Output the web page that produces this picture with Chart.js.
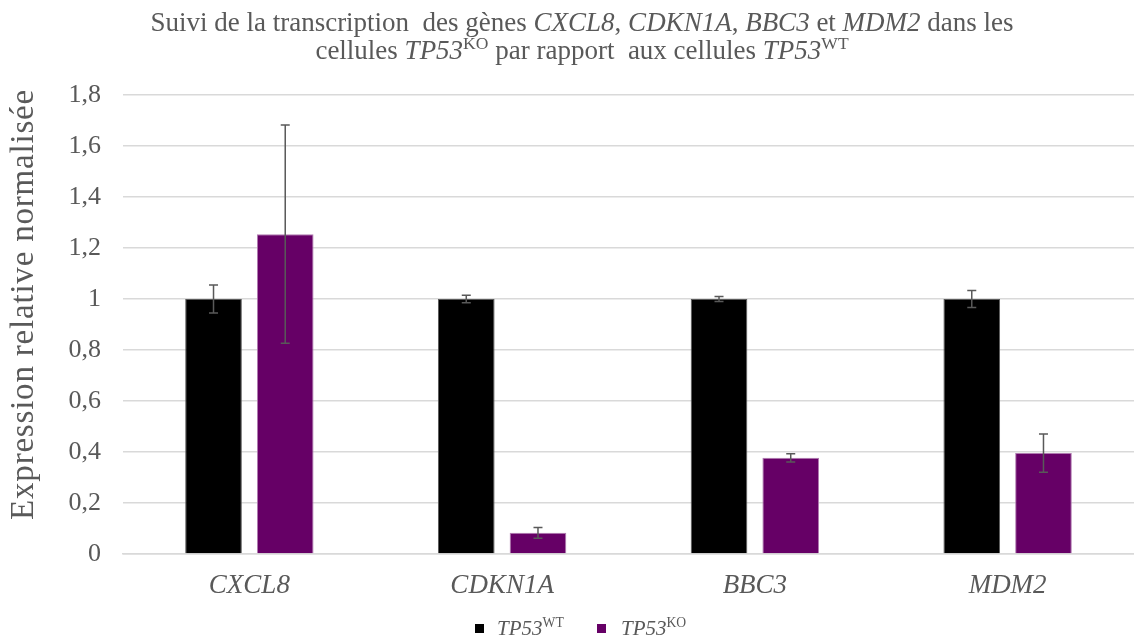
<!DOCTYPE html>
<html>
<head>
<meta charset="utf-8">
<script src="https://cdn.jsdelivr.net/npm/chart.js@4.4.1/dist/chart.umd.min.js"></script>
<style>
  html, body { margin: 0; padding: 0; background: #fff; }
  #wrap { width: 1134px; height: 639px; }
</style>
</head>
<body>
<div id="wrap"><canvas id="chart" width="1134" height="639"></canvas></div>
<script>
// Expression relative normalisee (qPCR), WT vs KO
const genes = ['CXCL8', 'CDKN1A', 'BBC3', 'MDM2'];
const wtValues = [1, 1, 1, 1];
const wtErrors = [0.055, 0.015, 0.01, 0.033];
const koValues = [1.254, 0.083, 0.377, 0.396];
const koErrors = [0.428, 0.021, 0.016, 0.075];
const yTicks = [0, 0.2, 0.4, 0.6, 0.8, 1, 1.2, 1.4, 1.6, 1.8];

const TEXT = '#595959';
const SERIF = '"Liberation Serif", "Times New Roman", serif';
const PURPLE = '#660066';

// segments: { t: texte, i: italique, sup: exposant }
function richWidth(ctx, parts, size) {
    let w = 0;
    parts.forEach(p => {
        const s = p.sup ? size * 0.65 : size;
        ctx.font = (p.i ? 'italic ' : '') + s + 'px ' + SERIF;
        w += ctx.measureText(p.t).width;
    });
    return w;
}

function drawRich(ctx, parts, x, y, size, align) {
    const w = richWidth(ctx, parts, size);
    let cx = align === 'center' ? x - w / 2 : x;
    ctx.textAlign = 'left';
    ctx.textBaseline = 'alphabetic';
    parts.forEach(p => {
        const s = p.sup ? size * 0.65 : size;
        ctx.font = (p.i ? 'italic ' : '') + s + 'px ' + SERIF;
        ctx.fillText(p.t, cx, p.sup ? y - size * 0.36 : y);
        cx += ctx.measureText(p.t).width;
    });
}

const titleLines = [
    [
        { t: 'Suivi de la transcription  des gènes ' },
        { t: 'CXCL8', i: true }, { t: ', ' },
        { t: 'CDKN1A', i: true }, { t: ', ' },
        { t: 'BBC3', i: true }, { t: ' et ' },
        { t: 'MDM2', i: true }, { t: ' dans les' },
    ],
    [
        { t: 'cellules ' }, { t: 'TP53', i: true }, { t: 'KO', sup: true },
        { t: ' par rapport  aux cellules ' }, { t: 'TP53', i: true }, { t: 'WT', sup: true },
    ],
];

const errorBars = {
    id: 'errorBars',
    afterDatasetsDraw(chart) {
        const ctx = chart.ctx;
        const y = chart.scales.y;
        const errs = [wtErrors, koErrors];
        ctx.save();
        ctx.strokeStyle = '#595959';
        ctx.lineWidth = 1.5;
        chart.data.datasets.forEach((ds, di) => {
            chart.getDatasetMeta(di).data.forEach((bar, i) => {
                const v = ds.data[i], e = errs[di][i];
                const top = y.getPixelForValue(v + e), bot = y.getPixelForValue(v - e);
                ctx.beginPath();
                ctx.moveTo(bar.x, top); ctx.lineTo(bar.x, bot);
                ctx.moveTo(bar.x - 4.5, top); ctx.lineTo(bar.x + 4.5, top);
                ctx.moveTo(bar.x - 4.5, bot); ctx.lineTo(bar.x + 4.5, bot);
                ctx.stroke();
            });
        });
        ctx.restore();
    },
    afterDraw(chart) {
        const ctx = chart.ctx;
        const area = chart.chartArea;
        ctx.save();
        ctx.fillStyle = TEXT;
        // titre
        drawRich(ctx, titleLines[0], 582, 31, 27, 'center');
        drawRich(ctx, titleLines[1], 582, 59, 27, 'center');
        // titre de l'axe Y
        ctx.translate(33, (area.top + area.bottom) / 2 - 20);
        ctx.rotate(-Math.PI / 2);
        ctx.font = '33px ' + SERIF;
        ctx.letterSpacing = '0.8px';
        ctx.textAlign = 'center';
        ctx.textBaseline = 'alphabetic';
        ctx.fillText('Expression relative normalisée', 0, 0);
        ctx.letterSpacing = '0px';
        ctx.setTransform(1, 0, 0, 1, 0, 0);
        // legende
        ctx.fillStyle = '#000';
        ctx.fillRect(475, 624, 9, 9);
        ctx.fillStyle = PURPLE;
        ctx.fillRect(597, 624, 9, 9);
        ctx.fillStyle = TEXT;
        drawRich(ctx, [{ t: 'TP53', i: true }, { t: 'WT', sup: true }], 497, 635, 21, 'left');
        drawRich(ctx, [{ t: 'TP53', i: true }, { t: 'KO', sup: true }], 621, 635, 21, 'left');
        ctx.restore();
    },
};

new Chart(document.getElementById('chart'), {
    type: 'bar',
    data: {
        labels: genes,
        datasets: [
            { label: 'TP53 WT', data: wtValues, backgroundColor: '#000', borderColor: '#595959', borderWidth: 1 },
            { label: 'TP53 KO', data: koValues, backgroundColor: PURPLE, borderColor: '#b07ab0', borderWidth: 1 },
        ],
    },
    options: {
        responsive: false,
        animation: false,
        layout: { padding: { top: 95, right: -4, left: 0, bottom: 0 } },
        datasets: { bar: { categoryPercentage: 0.5675, barPercentage: 0.79 } },
        plugins: { legend: { display: false }, title: { display: false }, tooltip: { enabled: false } },
        scales: {
            x: {
                afterFit: s => { s.height = 85; },
                grid: { display: false },
                border: { display: true, color: '#d9d9d9', width: 1.5 },
                ticks: { color: TEXT, padding: 8, font: { family: SERIF, size: 27, style: 'italic' } },
            },
            y: {
                min: 0, max: 1.8,
                afterFit: s => { s.width = 123; },
                afterBuildTicks: s => { s.ticks = yTicks.map(v => ({ value: v })); },
                border: { display: false },
                grid: { color: '#d9d9d9', lineWidth: 1.5, drawTicks: false },
                ticks: {
                    color: TEXT, padding: 22,
                    font: { family: SERIF, size: 26 },
                    callback: v => String(Math.round(v * 10) / 10).replace('.', ','),
                },
            },
        },
    },
    plugins: [errorBars],
});
</script>
</body>
</html>
